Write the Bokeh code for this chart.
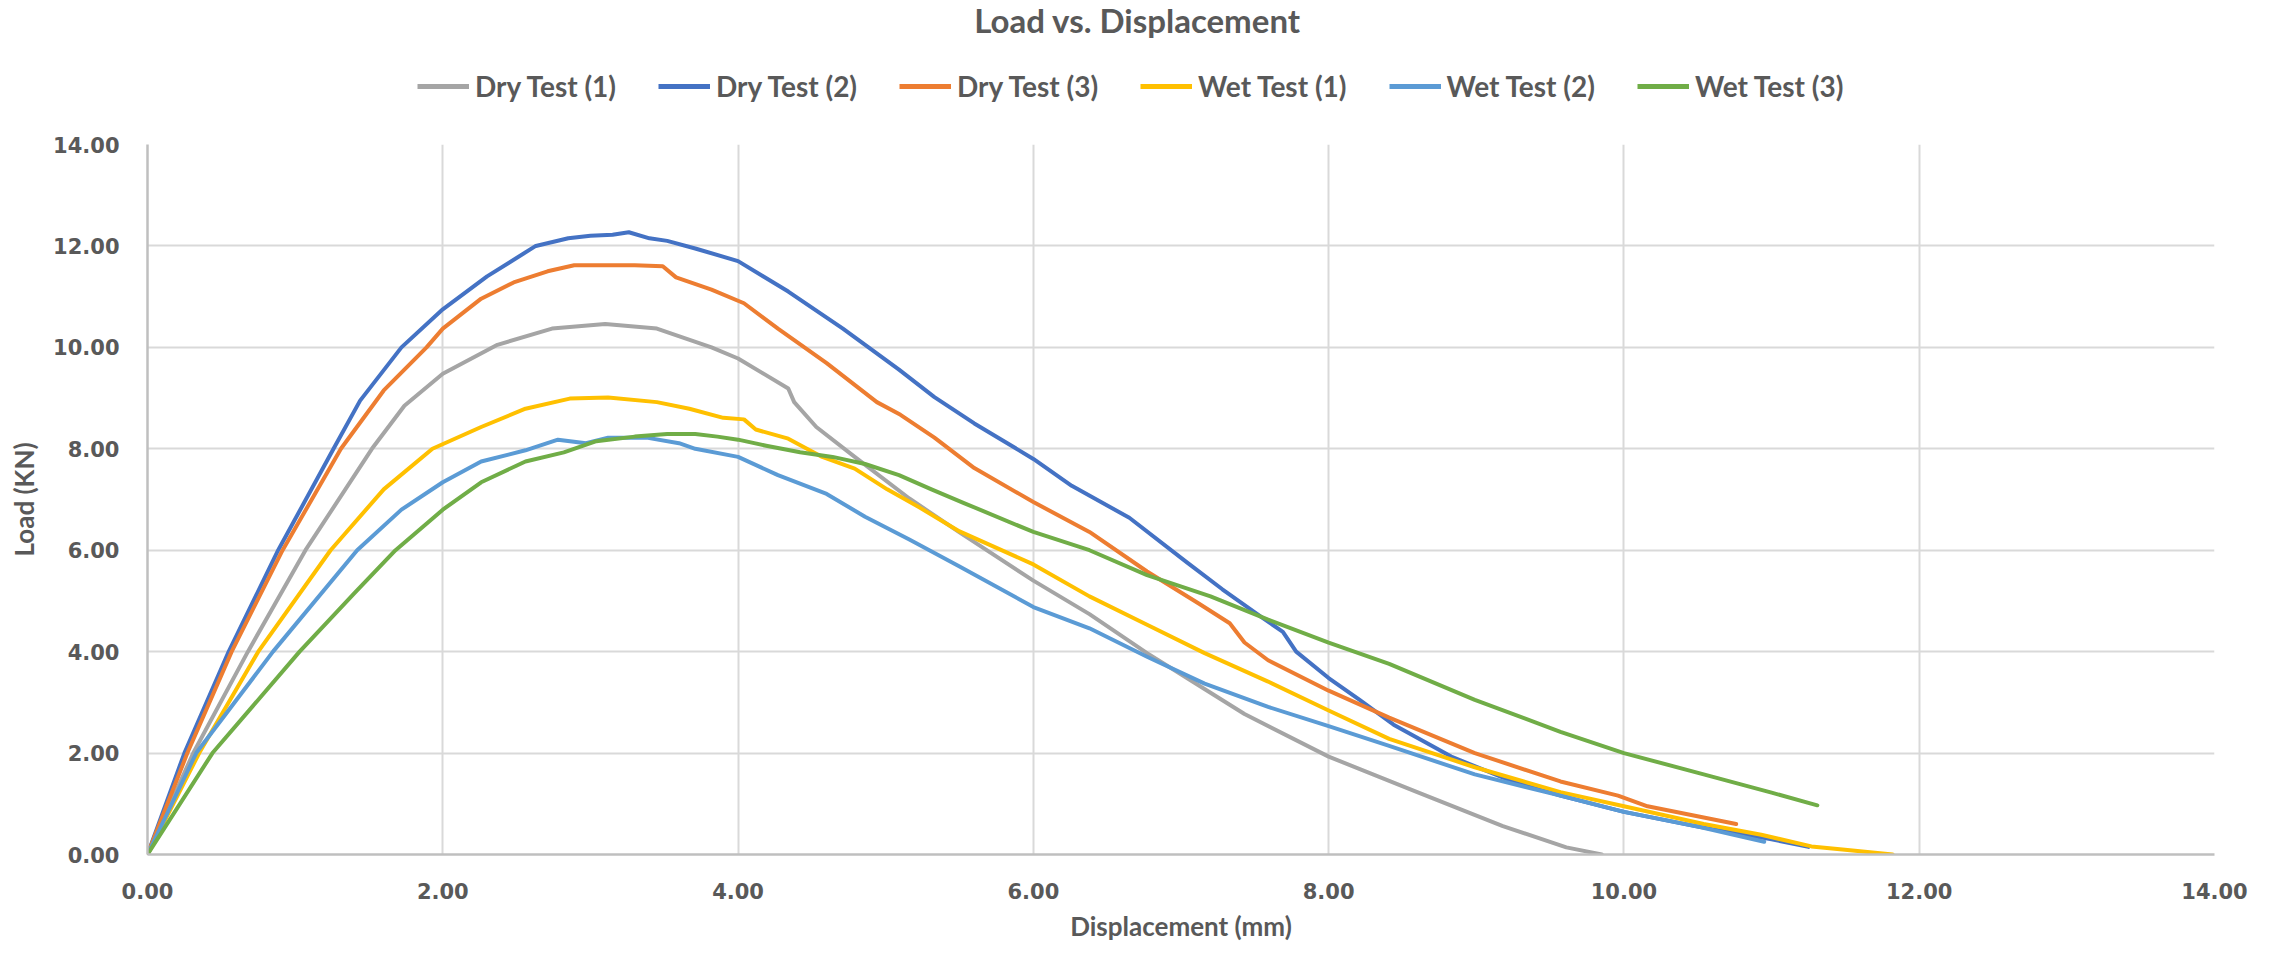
from bokeh.plotting import figure
from bokeh.layouts import column
from bokeh.models import Legend, LegendItem, Label, FixedTicker, NumeralTickFormatter
from bokeh.embed import file_html
from bokeh.resources import INLINE

# ---- data: load (kN) against displacement (mm) for each test ----
dry1_x = [0, 0.31, 0.68, 1.07, 1.52, 1.74, 2.0, 2.37, 2.74, 3.1, 3.45, 3.82, 4.0, 4.34, 4.38,
          4.53, 4.79, 5.16, 5.5, 6.0, 6.38, 6.77, 7.04, 7.43, 8.0, 8.6, 9.18, 9.61, 9.85]
dry1_y = [0, 2.0, 4.0, 6.0, 8.0, 8.85, 9.48, 10.05, 10.37, 10.46, 10.37, 10.0, 9.78, 9.19, 8.92,
          8.43, 7.84, 7.02, 6.35, 5.4, 4.74, 3.97, 3.48, 2.77, 1.93, 1.23, 0.56, 0.14, 0.0]

dry2_x = [0, 0.25, 0.55, 0.885, 1.26, 1.44, 1.72, 2.0, 2.3, 2.63, 2.85, 3.0, 3.15, 3.26, 3.4,
          3.52, 3.71, 4.0, 4.34, 4.71, 5.09, 5.33, 5.6, 6.0, 6.26, 6.65, 7.04, 7.28, 7.55,
          7.69, 7.78, 8.0, 8.21, 8.44, 8.83, 9.22, 9.57, 10.0, 10.5, 11.0, 11.25]
dry2_y = [0, 2.0, 4.0, 6.0, 8.0, 8.95, 10.0, 10.75, 11.4, 12.0, 12.15, 12.2, 12.22, 12.27, 12.15,
          12.1, 11.95, 11.7, 11.1, 10.37, 9.56, 9.02, 8.5, 7.8, 7.27, 6.64, 5.76, 5.23, 4.67,
          4.39, 4.0, 3.48, 3.05, 2.56, 1.93, 1.47, 1.16, 0.84, 0.55, 0.3, 0.15]

dry3_x = [0, 0.27, 0.57, 0.915, 1.31, 1.6, 1.89, 2.0, 2.26, 2.48, 2.71, 2.89, 3.12, 3.3, 3.49,
          3.58, 3.82, 4.04, 4.27, 4.6, 4.94, 5.1, 5.33, 5.6, 6.0, 6.38, 6.77, 7.12, 7.33,
          7.43, 7.59, 8.0, 8.41, 8.99, 9.57, 9.96, 10.16, 10.76]
dry3_y = [0, 2.0, 4.0, 6.0, 8.0, 9.15, 10.0, 10.37, 10.96, 11.28, 11.5, 11.62, 11.62, 11.62, 11.6,
          11.38, 11.14, 10.87, 10.37, 9.69, 8.92, 8.67, 8.22, 7.62, 6.95, 6.36, 5.58, 4.95, 4.56,
          4.18, 3.83, 3.23, 2.7, 2.0, 1.44, 1.16, 0.95, 0.6]

wet1_x = [0, 0.35, 0.75, 1.24, 1.6, 1.93, 2.26, 2.56, 2.86, 3.12, 3.45, 3.67, 3.9, 4.04, 4.12,
          4.34, 4.57, 4.79, 5.01, 5.23, 5.5, 6.0, 6.38, 6.77, 7.16, 7.59, 8.0, 8.41, 8.99,
          9.57, 10.0, 10.54, 10.93, 11.27, 11.48, 11.82]
wet1_y = [0, 2.0, 4.0, 6.0, 7.2, 8.0, 8.43, 8.79, 8.99, 9.01, 8.92, 8.79, 8.61, 8.58, 8.38,
          8.2, 7.84, 7.61, 7.2, 6.84, 6.37, 5.72, 5.09, 4.53, 3.97, 3.41, 2.84, 2.28, 1.72,
          1.23, 0.95, 0.6, 0.39, 0.16, 0.1, 0.0]

wet2_x = [0, 0.33, 0.85, 1.42, 1.72, 2.0, 2.26, 2.56, 2.78, 2.97, 3.12, 3.38, 3.6, 3.71, 4.0,
          4.27, 4.6, 4.86, 5.16, 5.5, 6.0, 6.38, 6.77, 7.16, 7.59, 8.0, 8.41, 8.99, 9.57,
          10.0, 10.5, 10.95]
wet2_y = [0, 2.0, 4.0, 6.0, 6.8, 7.34, 7.75, 7.97, 8.18, 8.11, 8.22, 8.22, 8.11, 8.0, 7.84,
          7.48, 7.11, 6.66, 6.21, 5.68, 4.88, 4.46, 3.9, 3.37, 2.91, 2.53, 2.14, 1.58, 1.16,
          0.84, 0.55, 0.25]

wet3_x = [0, 0.44, 1.03, 1.4, 1.68, 2.0, 2.26, 2.56, 2.82, 3.04, 3.3, 3.52, 3.71, 3.86, 4.0,
          4.19, 4.42, 4.64, 4.86, 5.09, 5.31, 5.53, 6.0, 6.38, 6.77, 7.2, 7.59, 8.0, 8.41,
          8.99, 9.57, 10.0, 10.54, 11.0, 11.31]
wet3_y = [0, 2.0, 4.0, 5.15, 6.0, 6.8, 7.34, 7.75, 7.93, 8.15, 8.24, 8.29, 8.29, 8.24, 8.18,
          8.06, 7.93, 7.84, 7.7, 7.48, 7.2, 6.93, 6.36, 6.0, 5.51, 5.09, 4.63, 4.18, 3.76,
          3.05, 2.42, 2.0, 1.58, 1.22, 0.97]

series_names = ["Dry Test (1)", "Dry Test (2)", "Dry Test (3)",
                "Wet Test (1)", "Wet Test (2)", "Wet Test (3)"]
series_x = [dry1_x, dry2_x, dry3_x, wet1_x, wet2_x, wet3_x]
series_y = [dry1_y, dry2_y, dry3_y, wet1_y, wet2_y, wet3_y]
series_colors = ["#A5A5A5", "#4472C4", "#ED7D31", "#FFC000", "#5B9BD5", "#70AD47"]

axis_ticks = [0, 2, 4, 6, 8, 10, 12, 14]

TEXT = "#595959"
LINE_W = 4
FRAME_LEFT = 147   # the column lines up both frames at this offset

# ---- header strip: chart title and horizontal legend ----
HEADER_H = 124
header = figure(width=2277, height=HEADER_H, x_range=(0, 14), y_range=(-20, -10),
                output_backend="svg", toolbar_location=None,
                x_axis_location=None, y_axis_location=None,
                min_border_left=FRAME_LEFT, min_border_right=63,
                min_border_top=0, min_border_bottom=0)
header.outline_line_color = None
header.grid.visible = False
header.border_fill_color = "white"
header.background_fill_color = "white"

header.add_layout(Label(x=1137 - FRAME_LEFT, y=HEADER_H - 19, x_units="screen", y_units="screen",
                        text="Load vs. Displacement", text_align="center",
                        text_baseline="middle", text_font="Lato",
                        text_font_style="bold", text_font_size="33px",
                        text_color=TEXT))

# legend keys: same series, drawn outside the header's visible y range
legend_keys = []
for xs, ys, c in zip(series_x, series_y, series_colors):
    legend_keys.append(header.line(xs, ys, line_color=c, line_width=LINE_W + 1))

legend = Legend(items=[LegendItem(label=n, renderers=[r])
                       for n, r in zip(series_names, legend_keys)],
                orientation="horizontal", location=(417 - FRAME_LEFT, 21),
                label_text_font="Lato", label_text_font_style="bold",
                label_text_font_size="28px", label_text_color=TEXT,
                glyph_width=52, glyph_height=24, label_standoff=6, spacing=42,
                padding=0, margin=0, border_line_color=None,
                background_fill_alpha=0)
header.add_layout(legend, "center")

# ---- main chart ----
p = figure(width=2277, height=957 - HEADER_H, x_range=(0, 14), y_range=(0, 14),
           output_backend="svg", toolbar_location=None,
           min_border_left=FRAME_LEFT, min_border_right=63,
           min_border_top=20, min_border_bottom=103)
p.outline_line_color = None
p.background_fill_color = "white"
p.border_fill_color = "white"

for ax in (p.xaxis[0], p.yaxis[0]):
    ax.ticker = FixedTicker(ticks=axis_ticks)
    ax.formatter = NumeralTickFormatter(format="0.00")
    ax.major_tick_in = 0
    ax.major_tick_out = 0
    ax.minor_tick_in = 0
    ax.minor_tick_out = 0
    ax.axis_line_color = "#BFBFBF"
    ax.axis_line_width = 2.5
    ax.major_label_text_font = "DejaVu Sans"
    ax.major_label_text_font_style = "bold"
    ax.major_label_text_font_size = "21px"
    ax.major_label_text_color = TEXT
    ax.major_label_standoff = 28
    ax.axis_label_text_font = "Lato"
    ax.axis_label_text_font_style = "bold"
    ax.axis_label_text_font_size = "26px"
    ax.axis_label_text_color = TEXT

p.xaxis.axis_label = "Displacement (mm)"
p.xaxis.axis_label_standoff = 8
p.yaxis.axis_label = "Load (KN)"
p.yaxis.axis_label_standoff = 10

for g in (p.xgrid[0], p.ygrid[0]):
    g.ticker = FixedTicker(ticks=axis_ticks)
    g.grid_line_color = "#D9D9D9"
    g.grid_line_width = 2

for xs, ys, c in zip(series_x, series_y, series_colors):
    p.line(xs, ys, line_color=c, line_width=LINE_W, line_join="round", line_cap="round")

layout = column(header, p, spacing=0)
open("out.html", "w").write(file_html(layout, INLINE))
